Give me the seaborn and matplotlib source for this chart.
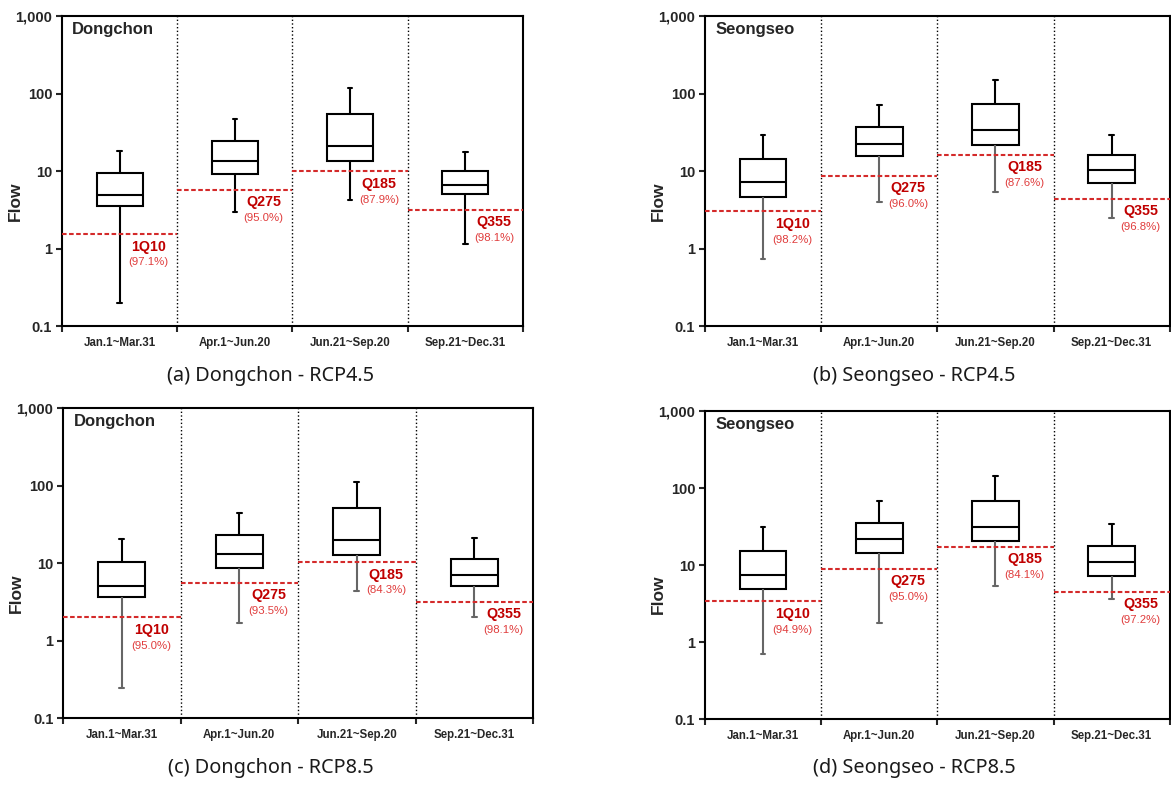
import matplotlib
matplotlib.use("Agg")
import matplotlib.pyplot as plt
import matplotlib.ticker as mticker
import numpy as np
import pandas as pd
import seaborn as sns

seasons = ["Jan.1~Mar.31", "Apr.1~Jun.20", "Jun.21~Sep.20", "Sep.21~Dec.31"]
q_names = ["1Q10", "Q275", "Q185", "Q355"]

# per season: whisker low, q1, median, q3, whisker high
dong45_box = [[0.2, 3.5, 4.9, 9.3, 18.1],
              [2.96, 9.2, 13.3, 24.2, 46.9],
              [4.26, 13.3, 21.0, 54.4, 117],
              [1.15, 5.05, 6.6, 10.0, 17.7]]
dong45_q = [1.54, 5.7, 10.0, 3.17]
dong45_pct = ["97.1", "95.0", "87.9", "98.1"]

seong45_box = [[0.74, 4.66, 7.15, 14.2, 28.9],
               [3.98, 15.5, 22.3, 37.3, 71.7],
               [5.36, 21.8, 34.1, 72.6, 151],
               [2.47, 7.06, 10.4, 15.9, 29.4]]
seong45_q = [3.02, 8.7, 16.2, 4.39]
seong45_pct = ["98.2", "96.0", "87.6", "96.8"]

dong85_box = [[0.247, 3.68, 5.1, 10.2, 20.2],
              [1.67, 8.6, 13.2, 22.8, 44.2],
              [4.3, 12.6, 19.8, 50.8, 110],
              [2.03, 5.1, 7.0, 11.2, 20.8]]
dong85_q = [1.99, 5.6, 10.3, 3.18]
dong85_pct = ["95.0", "93.5", "84.3", "98.1"]

seong85_box = [[0.70, 4.81, 7.44, 15.4, 31.2],
               [1.76, 14.5, 21.6, 35.2, 67.9],
               [5.3, 20.5, 31.6, 67.9, 142],
               [3.63, 7.2, 11.0, 17.7, 34.1]]
seong85_q = [3.39, 8.9, 17.2, 4.48]
seong85_pct = ["94.9", "95.0", "84.1", "97.2"]

sns.set_style("white")
plt.rcParams["font.family"] = ["Liberation Sans", "DejaVu Sans"]
plt.rcParams["font.weight"] = "bold"


def draw_panel(ax, station, box, qline, pct, low_color):
    df = pd.DataFrame({"season": np.repeat(seasons, 5),
                       "flow": np.concatenate(box)})
    sns.boxplot(data=df, x="season", y="flow", order=seasons, ax=ax,
                whis=(0, 100), width=0.4, color="white", linecolor="black",
                linewidth=1.5, log_scale=True, capwidths=0.04)
    # lower whiskers drawn lighter
    for line in ax.lines:
        x = np.asarray(line.get_xdata(), dtype=float)
        y = np.asarray(line.get_ydata(), dtype=float)
        if len(x) == 2:
            i = int(round(x.mean()))
            if y.max() <= box[i][1] * 1.001:
                line.set_color(low_color)

    ax.set_xlim(-0.5, 3.5)
    ax.set_ylim(0.1, 1000)
    for b in [0.5, 1.5, 2.5]:
        ax.axvline(b, color="black", ls=":", lw=1)
    pos = np.arange(len(seasons))
    ax.hlines(qline, pos - 0.5, pos + 0.5, colors="#d42a2a",
              linestyles=(0, (2.2, 1.2)), lw=1.5, zorder=3)
    for i in range(len(seasons)):
        ax.annotate(q_names[i], (i + 0.25, qline[i]), xytext=(0, -9),
                    textcoords="offset points", ha="center", va="center",
                    color="#c00000", fontsize=10.3, fontweight="bold")
        ax.annotate("(" + pct[i] + "%)", (i + 0.25, qline[i]), xytext=(0, -20.5),
                    textcoords="offset points", ha="center", va="center",
                    color="#e03c3c", fontsize=8.2, fontweight="normal")

    ax.annotate(station, (0, 1), xycoords="axes fraction", xytext=(7.5, -4),
                textcoords="offset points", ha="left", va="top",
                fontsize=12, fontweight="bold")

    ax.set_yticks([0.1, 1, 10, 100, 1000])
    ax.yaxis.set_major_formatter(mticker.FuncFormatter(lambda v, p: f"{v:,g}"))
    ax.yaxis.set_minor_locator(mticker.NullLocator())
    ax.tick_params(axis="y", length=4, width=1.5, direction="out",
                   labelsize=10.5, pad=3, left=True)
    ax.set_xticks(pos)
    ax.set_xticklabels(seasons, fontsize=8.3, fontweight="bold")
    ax.set_xticks(np.arange(-0.5, 4, 1), minor=True)
    ax.tick_params(axis="x", which="major", length=0, pad=8)
    ax.tick_params(axis="x", which="minor", length=4, width=1.5,
                   direction="out", bottom=True)
    ax.set_xlabel("")
    ax.set_ylabel("Flow", fontsize=12.5, fontweight="bold")
    ax.yaxis.set_label_coords(-0.084, 0.404)
    for s in ax.spines.values():
        s.set_linewidth(1.5)
        s.set_color("black")


fig = plt.figure(figsize=(11.71, 7.86), dpi=100)

panels = [
    ([0.0529, 0.5852, 0.3937, 0.3944], "Dongchon", dong45_box, dong45_q, dong45_pct,
     "black", "(a) Dongchon - RCP4.5", 0.2314, 0.5216),
    ([0.602, 0.5852, 0.397, 0.3944], "Seongseo", seong45_box, seong45_q, seong45_pct,
     "#666666", "(b) Seongseo - RCP4.5", 0.7805, 0.5216),
    ([0.0538, 0.0865, 0.4014, 0.3944], "Dongchon", dong85_box, dong85_q, dong85_pct,
     "#666666", "(c) Dongchon - RCP8.5", 0.2314, 0.0225),
    ([0.602, 0.0852, 0.397, 0.3919], "Seongseo", seong85_box, seong85_q, seong85_pct,
     "#666666", "(d) Seongseo - RCP8.5", 0.7805, 0.0225),
]

for rect, station, box, qline, pct, low_color, caption, cx, cy in panels:
    ax = fig.add_axes(rect)
    draw_panel(ax, station, box, qline, pct, low_color)
    fig.text(cx, cy, caption, ha="center", va="center", fontsize=14.3,
             fontweight="normal", family=["Noto Sans", "DejaVu Sans"], color="#1a1a1a")

fig.savefig("out.png", dpi=100)
